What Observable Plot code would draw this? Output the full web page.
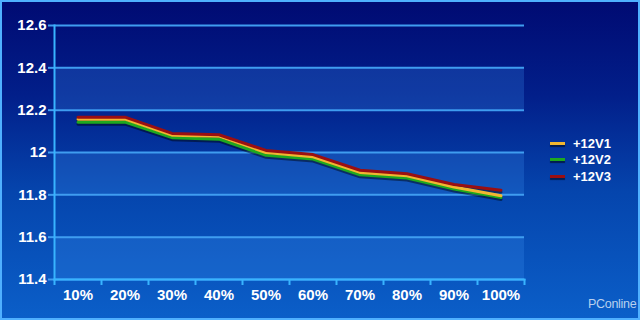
<!DOCTYPE html>
<html>
<head>
<meta charset="utf-8">
<script src="https://cdn.jsdelivr.net/npm/d3@7"></script>
<script src="https://cdn.jsdelivr.net/npm/@observablehq/plot@0.6"></script>
<style>
  html, body { margin: 0; padding: 0; }
  #wrap {
    position: relative; width: 640px; height: 320px; overflow: hidden;
    background: linear-gradient(to bottom, #000a72 0%, #021f8a 30%, #0545ad 60%, #0b5fc9 100%);
    box-shadow: inset 0 0 0 2px #4fb0ff;
    font-family: "Liberation Sans", Arial, sans-serif;
  }
  #chart { position: absolute; left: 0; top: 0; }
  #legend { position: absolute; left: 550px; top: 135px; color: #fff; font-weight: bold; font-size: 13px; }
  .item { display: flex; align-items: center; height: 16.5px; }
  .sw { width: 15px; height: 3px; margin-right: 8px; box-shadow: 0 2px 1px rgba(0,0,0,0.5); }
  #wm { position: absolute; left: 588px; top: 297px; color: #b8d0ee; font-size: 12.5px; letter-spacing: -0.3px; }
</style>
</head>
<body>
<div id="wrap">
  <div id="chart"></div>
  <div id="legend"></div>
  <div id="wm">PConline</div>
</div>
<script>
const categories = ["10%","20%","30%","40%","50%","60%","70%","80%","90%","100%"];
const v1 = [12.157, 12.158, 12.082, 12.077, 12.000, 11.980, 11.906, 11.890, 11.837, 11.796];
const v2 = [12.143, 12.144, 12.070, 12.063, 11.987, 11.969, 11.895, 11.879, 11.827, 11.787];
const v3 = [12.166, 12.167, 12.090, 12.084, 12.010, 11.990, 11.916, 11.900, 11.849, 11.822];
const seriesNames = ["+12V1", "+12V2", "+12V3"];
const seriesColors = ["#f2b631", "#1fa81f", "#9a0f12"];
const yTicks = [11.4, 11.6, 11.8, 12.0, 12.2, 12.4, 12.6];
const yTickLabels = ["11.4", "11.6", "11.8", "12", "12.2", "12.4", "12.6"];
const bandLows = [12.2, 11.8, 11.4];
const bandStep = 0.2;

const seriesVals = [v1, v2, v3];
const rows = [];
seriesVals.forEach((vals, s) => vals.forEach((v, i) => rows.push({series: seriesNames[s], idx: i + 0.5, value: v})));
const bands = bandLows.map(b => ({y1: b, y2: b + bandStep}));
const boundaries = d3.range(categories.length + 1);
const centers = categories.map((c, i) => i + 0.5);

const drawOrder = [1, 0, 2];
const lineMarks = [];
drawOrder.forEach(s => {
  lineMarks.push(Plot.line(rows.filter(r => r.series === seriesNames[s]), {x: "idx", y: "value", stroke: "#000", strokeOpacity: 0.45, strokeWidth: 3, dy: 2}));
});
drawOrder.forEach(s => {
  lineMarks.push(Plot.line(rows.filter(r => r.series === seriesNames[s]), {x: "idx", y: "value", stroke: seriesColors[s], strokeWidth: 3}));
});

const chart = Plot.plot({
  width: 640, height: 320,
  marginLeft: 54, marginRight: 116, marginTop: 25, marginBottom: 41,
  style: {background: "transparent", color: "#fff", fontFamily: "'Liberation Sans', Arial, sans-serif", fontWeight: "bold", fontSize: "15px", overflow: "visible"},
  x: {type: "linear", domain: [0, categories.length]},
  y: {domain: [11.4, 12.6]},
  marks: [
    Plot.rect(bands, {y1: "y1", y2: "y2", fill: "#3c8ff0", fillOpacity: 0.25}),
    Plot.ruleY(yTicks, {stroke: "#3f9df0", strokeWidth: 2}),
    Plot.axisY({ticks: yTicks, tickFormat: (d, i) => yTickLabels[yTicks.indexOf(d)], tickSize: 6, tickPadding: 2, stroke: "#3f9df0", strokeWidth: 2, tickStroke: "#3f9df0", label: null, fill: "#fff"}),
    Plot.axisX({ticks: boundaries, tickFormat: () => "", tickSize: 6, stroke: "#38b4ff", strokeWidth: 2, label: null}),
    Plot.axisX({ticks: centers, tickFormat: (d) => categories[Math.round(d - 0.5)], tickSize: 0, tickPadding: 10, label: null, fill: "#fff"}),
    Plot.frame({anchor: "left", stroke: "#38b4ff", strokeWidth: 2}),
    Plot.frame({anchor: "bottom", stroke: "#38b4ff", strokeWidth: 2}),
    ...lineMarks
  ]
});
document.getElementById("chart").appendChild(chart);

const legend = document.getElementById("legend");
seriesNames.forEach((n, i) => {
  const it = document.createElement("div");
  it.className = "item";
  it.innerHTML = `<span class="sw" style="background:${seriesColors[i]}"></span><span>${n}</span>`;
  legend.appendChild(it);
});
</script>
</body>
</html>
